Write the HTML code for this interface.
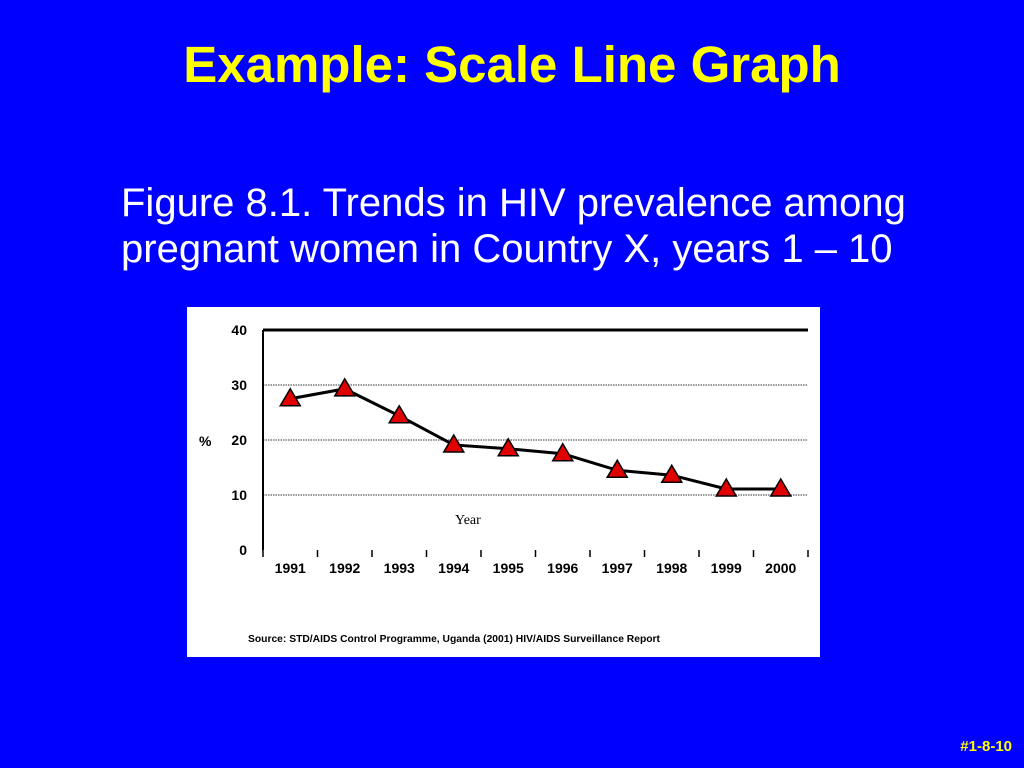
<!DOCTYPE html>
<html><head><meta charset="utf-8"><style>
body{margin:0;width:1024px;height:768px;background:#0000ff;position:relative;overflow:hidden;font-family:"Liberation Sans",sans-serif}
#title{position:absolute;top:35px;left:0;width:1024px;text-align:center;color:#ffff00;font-weight:bold;font-size:51px}
#sub{position:absolute;left:121px;top:180px;color:#fff;font-size:40px;line-height:46px}
#foot{position:absolute;right:12px;top:738px;color:#ffff00;font-weight:bold;font-size:15px}
svg{position:absolute;left:187px;top:307px}
</style></head><body>
<div id="title">Example: Scale Line Graph</div>
<div id="sub">Figure 8.1. Trends in HIV prevalence among<br>pregnant women in Country X, years 1 – 10</div>
<svg id="chart" width="633" height="350"></svg>
<div id="foot">#1-8-10</div>
<script>
const years=["1991","1992","1993","1994","1995","1996","1997","1998","1999","2000"];
const values=[27.5,29.3,24.4,19.1,18.4,17.5,14.5,13.6,11.1,11.1];
const yTicks=[0,10,20,30,40];
const NS="http://www.w3.org/2000/svg";
const svg=document.getElementById('chart');
function mk(t,a){const e=document.createElementNS(NS,t);for(const k in a)e.setAttribute(k,a[k]);svg.appendChild(e);return e;}
const x0=76,x1=621,y0=243,yMax=40,h=220;
const bw=(x1-x0)/years.length;
const X=i=>x0+bw*(i+0.5);
const Y=v=>y0-v/yMax*h;
let bg=mk('rect',{x:0,y:0,width:633,height:350,fill:'#fff'});


yTicks.forEach(t=>{
  if(t>0){let l=mk('line',{x1:x0,x2:x1,y1:Y(t),y2:Y(t),stroke:t==40?'#000':'#777','stroke-width':t==40?3:1.5,'stroke-dasharray':t==40?'':'1.5,1'});
  
  }
  let tx=mk('text',{x:60,y:Y(t)+5,'text-anchor':'end','font-size':14,'font-weight':'bold','font-family':'Liberation Sans'});
  tx.textContent=t;
  
  
});
let ax=mk('line',{x1:x0,x2:x0,y1:Y(40),y2:y0,stroke:'#000','stroke-width':2});


for(let i=0;i<=years.length;i++){let tk=mk('line',{x1:x0+bw*i,x2:x0+bw*i,y1:y0,y2:y0+7,stroke:'#000','stroke-width':1.5});

}
years.forEach((y,i)=>{let t=mk('text',{x:X(i),y:y0+23,'text-anchor':'middle','font-size':14,'font-weight':'bold','font-family':'Liberation Sans'});t.textContent=y;

});
let yl=mk('text',{x:12,y:139,'font-size':14,'font-weight':'bold','font-family':'Liberation Sans'});yl.textContent='%';


let xl=mk('text',{x:268,y:217,'font-size':14,'font-family':'Liberation Serif'});xl.textContent='Year';


let line=mk('polyline',{points:values.map((v,i)=>X(i)+','+Y(v)).join(' '),fill:'none',stroke:'#000','stroke-width':3});


values.forEach((v,i)=>{const cx=X(i),cy=Y(v);
let p=mk('polygon',{points:`${cx},${cy-10} ${cx-10},${cy+7} ${cx+10},${cy+7}`,fill:'#e00000',stroke:'#000','stroke-width':1.5});

});
let src=mk('text',{x:61,y:335,'font-size':10.3,'font-weight':'bold','font-family':'Liberation Sans'});
src.textContent='Source:  STD/AIDS Control Programme, Uganda (2001) HIV/AIDS Surveillance Report';


</script>
</body></html>
